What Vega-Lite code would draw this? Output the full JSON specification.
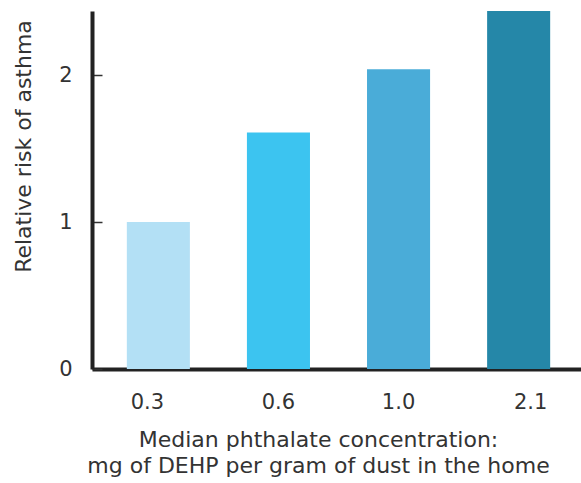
{
  "$schema": "https://vega.github.io/schema/vega-lite/v6.json",
  "autosize": "none",
  "width": 493,
  "height": 358,
  "padding": {"left": 92, "top": 11, "right": 0, "bottom": 114},
  "background": "white",
  "config": {"view": {"stroke": null}, "font": "DejaVu Sans"},
  "data": {"values": [
    {"conc": "0.3", "risk": 1.0, "col": "#b3e0f5"},
    {"conc": "0.6", "risk": 1.61, "col": "#3cc4f0"},
    {"conc": "1.0", "risk": 2.04, "col": "#4aacd8"},
    {"conc": "2.1", "risk": 2.5, "col": "#2587a8"}
  ]},
  "mark": {"type": "bar", "clip": true},
  "encoding": {
    "x": {
      "field": "conc", "type": "nominal", "sort": null,
      "scale": {"paddingInner": 0.475, "paddingOuter": 0.29},
      "axis": {
        "title": ["Median phthalate concentration:", "mg of DEHP per gram of dust in the home"],
        "titleFont": "DejaVu Sans", "titleFontSize": 22, "titleFontWeight": "normal", "titleColor": "#333",
        "titleX": 226, "titleY": 77, "titleLineHeight": 26, "titleBaseline": "alphabetic",
        "labelAngle": 0, "labelFontSize": 21, "labelColor": "#333", "labelPadding": 22, "labelBaseline": "top",
        "ticks": false, "domainWidth": 4, "domainColor": "#222",
        "labelOffset": {"condition": [{"test": "datum.label == '0.3'", "value": -11}, {"test": "datum.label == '2.1'", "value": 12}], "value": 0}
      }
    },
    "y": {
      "field": "risk", "type": "quantitative",
      "scale": {"domain": [0, 2.436], "nice": false, "zero": true},
      "axis": {
        "title": "Relative risk of asthma",
        "values": [0, 1, 2], "grid": false,
        "titleFont": "DejaVu Sans", "titleFontSize": 22, "titleFontWeight": "normal", "titleColor": "#333",
        "titleX": -69, "titleY": 135, "titleAlign": "center", "titleBaseline": "middle",
        "labelFontSize": 21, "labelColor": "#333", "labelPadding": 30,
        "tickSize": -10, "tickColor": "#333", "tickWidth": 1.5,
        "domainWidth": 4, "domainColor": "#222"
      }
    },
    "color": {"field": "col", "type": "nominal", "scale": null}
  }
}
